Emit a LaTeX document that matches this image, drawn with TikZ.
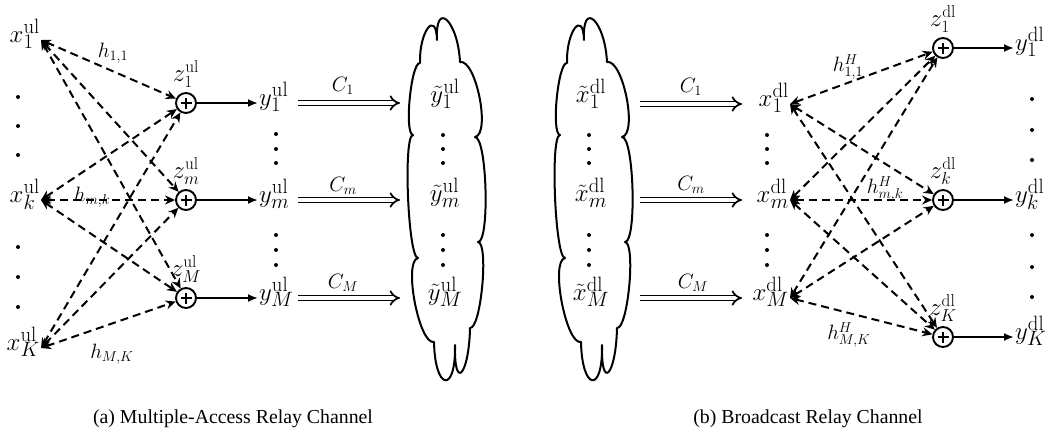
\documentclass[tikz,border=0pt]{standalone}
\usepackage[no-math]{fontspec}
\newfontfamily\capfont{Liberation Serif}
\usetikzlibrary{arrows.meta}
\begin{document}
\begin{tikzpicture}[x=1pt,y=-1pt,
  lab/.style={inner sep=1pt, font=\fontsize{30}{34}\selectfont},
  zlab/.style={inner sep=1pt, font=\fontsize{26}{30}\selectfont},
  sml/.style={inner sep=1pt, font=\fontsize{20}{24}\selectfont},
  cml/.style={inner sep=1pt, font=\fontsize{21}{25}\selectfont},
  captxt/.style={inner sep=0pt, font=\capfont\fontsize{19.8}{24}\selectfont},
  adder/.style={circle, draw, line width=1.9pt, minimum size=20pt, inner sep=0pt,
    path picture={\draw[line width=1.6pt]
      ([xshift=-5.5pt]path picture bounding box.center) -- ([xshift=5.5pt]path picture bounding box.center)
      ([yshift=-5.5pt]path picture bounding box.center) -- ([yshift=5.5pt]path picture bounding box.center);}},
  dsh/.style={line width=2pt, dash pattern=on 8pt off 5pt,
    {Stealth[length=10pt,width=9pt]}-{Stealth[length=10pt,width=9pt]}},
  sol/.style={line width=1.9pt, -{Latex[length=10pt,width=8pt]}},
  dbl/.style={double, double distance=3.4pt, line width=1.7pt, -{Implies}},
  cloudline/.style={line width=2pt, line join=round},
  vcloud/.pic={\draw[cloudline] (420,63) .. controls (419,32) and (436,9) .. (437,40)
      .. controls (435,-1) and (458,21) .. (460,62)
      .. controls (476,59) and (491,134) .. (475,137)
      .. controls (487,137) and (490,242) .. (478,242)
      .. controls (489,243) and (481,329) .. (470,328)
      .. controls (469,375) and (454,392) .. (455,345)
      .. controls (456,394) and (435,391) .. (434,342)
      .. controls (419,345) and (403,261) .. (418,258)
      .. controls (408,258) and (403,135) .. (413,135)
      .. controls (404,134) and (411,62) .. (420,63) -- cycle;}
]
\useasboundingbox (0,0) rectangle (1060,432);

% ---------- (a) left panel ----------
\node[lab, anchor=mid east] (xu1) at (41,40) {$x^{\mathrm{ul}}_1$};
\node[lab, anchor=mid east] (xuk) at (41,200) {$x^{\mathrm{ul}}_k$};
\node[lab, anchor=mid east] (xuK) at (41,348) {$x^{\mathrm{ul}}_K$};
\foreach \yy in {97,126,155,247,277,307} \fill (18,\yy) circle[radius=2pt];

\node[adder] (zu1) at (186,103) {};
\node[adder] (zum) at (186,200) {};
\node[adder] (zuM) at (186,298) {};
\node[zlab, anchor=south] (zu1t) at ([yshift=3pt]zu1.north) {$z^{\mathrm{ul}}_1$};
\node[zlab, anchor=south] (zumt) at ([yshift=3pt]zum.north) {$z^{\mathrm{ul}}_m$};
\node[zlab, anchor=south] (zuMt) at ([yshift=3pt]zuM.north) {$z^{\mathrm{ul}}_M$};

\foreach \s in {xu1,xuk,xuK}
  \foreach \t in {zu1,zum,zuM}
    \draw[dsh] (\s.mid east) -- (\t);

\node[sml] (h11) at (113,53) {$h_{1,1}$};
\node[sml] (hmk) at (92,197) {$h_{m,k}$};
\node[sml] (hMK) at (112,354) {$h_{M,K}$};

\node[lab, anchor=mid west] (yu1) at (258,103) {$y^{\mathrm{ul}}_1$};
\node[lab, anchor=mid west] (yum) at (258,200) {$y^{\mathrm{ul}}_m$};
\node[lab, anchor=mid west] (yuM) at (258,298) {$y^{\mathrm{ul}}_M$};
\draw[sol] (zu1) -- (yu1.mid west);
\draw[sol] (zum) -- (yum.mid west);
\draw[sol] (zuM) -- (yuM.mid west);
\foreach \yy in {134,149,163,235,250,265} \fill (276,\yy) circle[radius=2pt];

\coordinate (da) at (298,0);
\coordinate (db) at (400,0);
\draw[dbl] (yu1.mid -| da) -- (yu1.mid -| db);
\draw[dbl] (yum.mid -| da) -- (yum.mid -| db);
\draw[dbl] (yuM.mid -| da) -- (yuM.mid -| db);
\node[cml, anchor=base] (cu1) at (343,91) {$C_1$};
\node[cml, anchor=base] (cum) at (343,191) {$C_m$};
\node[cml, anchor=base] (cuM) at (343,288) {$C_M$};

\pic (cloudL) at (0,0) {vcloud};
\node[lab, anchor=mid] (yt1) at (445,100) {$\tilde{y}^{\mathrm{ul}}_1$};
\node[lab, anchor=mid] (ytm) at (445,199) {$\tilde{y}^{\mathrm{ul}}_m$};
\node[lab, anchor=mid] (ytM) at (445,298) {$\tilde{y}^{\mathrm{ul}}_M$};
\foreach \yy in {135,149,163,235,250,265} \fill (443,\yy) circle[radius=2pt];

\node[captxt, anchor=base] (capa) at (233,423) {(a) Multiple-Access Relay Channel};

% ---------- (b) right panel ----------
\pic (cloudR) at (147,0) {vcloud};
\node[lab, anchor=mid] (xt1) at (591,100) {$\tilde{x}^{\mathrm{dl}}_1$};
\node[lab, anchor=mid] (xtm) at (591,199) {$\tilde{x}^{\mathrm{dl}}_m$};
\node[lab, anchor=mid] (xtM) at (591,298) {$\tilde{x}^{\mathrm{dl}}_M$};
\foreach \yy in {135,149,163,235,250,265} \fill (589,\yy) circle[radius=2pt];

\node[lab, anchor=mid east] (xd1) at (790,104) {$x^{\mathrm{dl}}_1$};
\node[lab, anchor=mid east] (xdm) at (790,200) {$x^{\mathrm{dl}}_m$};
\node[lab, anchor=mid east] (xdM) at (790,298) {$x^{\mathrm{dl}}_M$};
\foreach \yy in {135,149,163,235,250,265} \fill (767,\yy) circle[radius=2pt];

\coordinate (dc) at (640,0);
\coordinate (dd) at (742,0);
\draw[dbl] (xd1.mid -| dc) -- (xd1.mid -| dd);
\draw[dbl] (xdm.mid -| dc) -- (xdm.mid -| dd);
\draw[dbl] (xdM.mid -| dc) -- (xdM.mid -| dd);
\node[cml, anchor=base] (cd1) at (691,92) {$C_1$};
\node[cml, anchor=base] (cdm) at (691,190) {$C_m$};
\node[cml, anchor=base] (cdM) at (693,288) {$C_M$};

\node[adder] (zd1) at (943,48) {};
\node[adder] (zdk) at (943,200) {};
\node[adder] (zdK) at (943,337) {};
\node[zlab, anchor=south] (zd1t) at ([yshift=3pt]zd1.north) {$z^{\mathrm{dl}}_1$};
\node[zlab, anchor=south] (zdkt) at ([yshift=3pt]zdk.north) {$z^{\mathrm{dl}}_k$};
\node[zlab, anchor=south] (zdKt) at ([yshift=3pt]zdK.north) {$z^{\mathrm{dl}}_K$};

\foreach \s in {xd1,xdm,xdM}
  \foreach \t in {zd1,zdk,zdK}
    \draw[dsh] (\s.mid east) -- (\t);

\node[sml] (hd11) at (848,67) {$h^H_{1,1}$};
\node[sml] (hdmk) at (885,189) {$h^H_{m,k}$};
\node[sml] (hdMK) at (849,335) {$h^H_{M,K}$};

\node[lab, anchor=mid west] (yd1) at (1014,48) {$y^{\mathrm{dl}}_1$};
\node[lab, anchor=mid west] (ydk) at (1014,200) {$y^{\mathrm{dl}}_k$};
\node[lab, anchor=mid west] (ydK) at (1014,337) {$y^{\mathrm{dl}}_K$};
\draw[sol] (zd1) -- (yd1.mid west);
\draw[sol] (zdk) -- (ydk.mid west);
\draw[sol] (zdK) -- (ydK.mid west);
\foreach \yy in {99,130,160,235,267,297} \fill (1032,\yy) circle[radius=2pt];

\node[captxt, anchor=base] (capb) at (808,423) {(b) Broadcast Relay Channel};
\end{tikzpicture}
\end{document}
